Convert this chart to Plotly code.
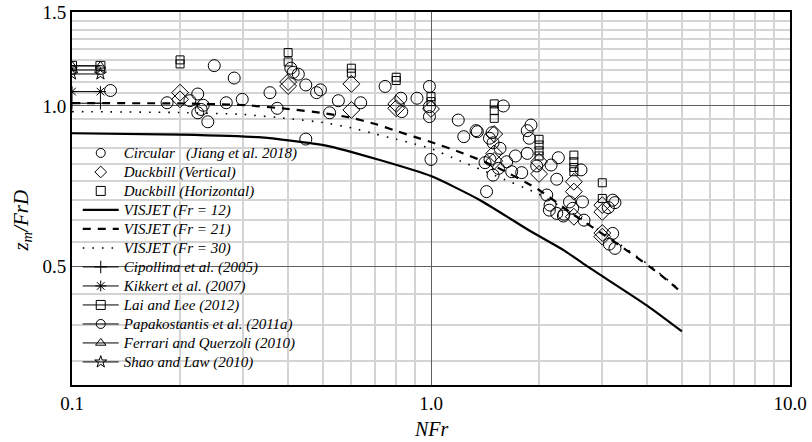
import plotly.graph_objects as go

# ---------------- data ----------------
jiang_x = [0.128, 0.184, 0.213, 0.224, 0.224, 0.232, 0.229, 0.239, 0.249, 0.269, 0.283, 0.298, 0.356, 0.373,
           0.407, 0.413, 0.427, 0.448, 0.448, 0.480, 0.492, 0.522, 0.552, 0.637, 0.745, 0.824, 0.829, 0.914,
           0.990, 0.990, 0.990, 1.000, 1.191, 1.234, 1.335, 1.346, 1.479, 1.455, 1.489, 1.557, 1.414, 1.460,
           1.542, 1.625, 1.719, 1.489, 1.678, 1.789, 1.428, 1.590, 1.899, 1.854, 1.878, 1.854, 1.970, 2.160,
           2.263, 2.240, 2.101, 2.146, 2.136, 2.240, 2.337, 2.347, 2.617, 2.431, 2.481, 2.642, 2.668, 3.207,
           3.254, 3.118, 3.207, 3.138, 3.254]
jiang_y = [1.069, 1.014, 1.023, 1.053, 0.971, 1.003, 0.985, 0.934, 1.190, 1.014, 1.128, 1.029, 1.059, 0.990,
           1.177, 1.156, 1.147, 1.095, 0.867, 1.059, 1.072, 0.971, 1.023, 1.014, 1.088, 1.034, 0.976, 1.034,
           1.088, 0.997, 0.955, 0.794, 0.941, 0.876, 0.899, 0.895, 0.891, 0.870, 0.853, 0.833, 0.783, 0.794,
           0.764, 0.786, 0.806, 0.742, 0.753, 0.750, 0.691, 1.000, 0.921, 0.899, 0.870, 0.815, 0.772, 0.775,
           0.800, 0.729, 0.681, 0.652, 0.638, 0.629, 0.622, 0.627, 0.759, 0.661, 0.643, 0.661, 0.611, 0.666,
           0.659, 0.645, 0.577, 0.551, 0.541]

duck_v_x = [0.2, 0.2, 0.4, 0.4, 0.6, 0.6, 0.8, 0.8, 1.0, 1.5, 1.5, 1.5, 2.0, 2.0, 2.5, 2.5, 2.5, 3.0, 3.0, 3.0, 3.0]
duck_v_y = [1.059, 1.029, 1.109, 1.090, 1.100, 0.983, 1.009, 0.990, 0.987, 0.886, 0.815, 0.789, 0.786, 0.746,
            0.721, 0.691, 0.620, 0.652, 0.633, 0.578, 0.569]

duck_h_x = [0.2, 0.2, 0.4, 0.4, 0.6, 0.6, 0.8, 0.8, 1.0, 1.0, 1.5, 1.5, 1.5, 2.0, 2.0, 2.0, 2.0, 2.5, 2.5, 2.5,
            2.5, 3.0, 3.0]
duck_h_y = [1.220, 1.199, 1.259, 1.209, 1.177, 1.152, 1.132, 1.116, 1.041, 1.019, 1.009, 0.980, 0.948, 0.866,
            0.845, 0.824, 0.806, 0.809, 0.786, 0.767, 0.753, 0.718, 0.671]

v12_x = [0.1, 0.2, 0.33, 0.51, 0.72, 1.0, 1.37, 1.89, 2.34, 2.72, 3.99, 5.0]
v12_y = [0.889, 0.884, 0.874, 0.843, 0.792, 0.739, 0.666, 0.583, 0.537, 0.501, 0.423, 0.378]

v21_x = [0.1, 0.2, 0.3, 0.4, 0.5, 0.6, 0.7, 0.8, 0.9, 1.0, 1.2, 1.5, 2.0, 2.5, 2.9, 3.5, 4.25, 4.9]
v21_y = [1.012, 1.011, 1.004, 0.987, 0.970, 0.950, 0.925, 0.898, 0.875, 0.856, 0.820, 0.772, 0.696, 0.625,
         0.585, 0.537, 0.489, 0.452]

v30_x = [0.1, 0.2, 0.3, 0.4, 0.5, 0.6, 0.7, 0.8, 0.9, 1.0, 1.2, 1.5, 2.0, 2.5, 2.9, 3.5, 4.25, 4.9]
v30_y = [0.976, 0.972, 0.964, 0.947, 0.931, 0.910, 0.886, 0.866, 0.849, 0.832, 0.790, 0.742, 0.683, 0.627,
         0.588, 0.540, 0.491, 0.454]

lit_x = [0.1, 0.12]
lit_names = ["Cipollina et al. (2005)", "Kikkert et al. (2007)", "Lai and Lee (2012)",
             "Papakostantis et al. (2011a)", "Ferrari and Querzoli (2010)", "Shao and Law (2010)"]
lit_values = [1.012, 1.064, 1.189, 1.168, 1.189, 1.148]
lit_symbols = ["cross-thin-open", "asterisk-open", "square-open", "circle-open", "triangle-up-open", "star-open"]

x_ticks = [0.1, 1.0, 10.0]
x_ticklabels = ["0.1", "1.0", "10.0"]
x_minor = [0.2, 0.3, 0.4, 0.5, 0.6, 0.7, 0.8, 0.9, 2, 3, 4, 5, 6, 7, 8, 9]
y_ticks = [0.5, 1.0, 1.5]
y_ticklabels = ["0.5", "1.0", "1.5"]
y_minor = [0.333, 0.389, 0.444, 0.556, 0.611, 0.667, 0.722, 0.778, 0.833, 0.889, 0.944,
           1.056, 1.111, 1.167, 1.222, 1.278, 1.333, 1.389, 1.444]

FONT = "Liberation Serif"
NB = "\u00a0"


def lg(text):
    # legend label rendered at 15px while the legend row pitch follows the smaller legend font
    return ('<span style="font-size:15px;font-family:Liberation Serif,Times New Roman,serif;'
            'font-style:italic">' + text + "</span>")


fig = go.Figure()

# legend-only entries for the experimental markers
for name, sym in [("Circular" + NB * 3 + "(Jiang et al. 2018)", "circle-open"),
                  ("Duckbill (Vertical)", "diamond-open"),
                  ("Duckbill (Horizontal)", "square-open")]:
    fig.add_trace(go.Scatter(x=[None], y=[None], mode="markers", name=lg(name),
                             marker=dict(symbol=sym, size=9, color="black", line=dict(width=1, color="black"))))

# VISJET lines
fig.add_trace(go.Scatter(x=v12_x, y=v12_y, mode="lines", name=lg("VISJET (Fr = 12)"),
                         line=dict(color="black", width=2.2, shape="spline", smoothing=0.6)))
fig.add_trace(go.Scatter(x=v21_x, y=v21_y, mode="lines", name=lg("VISJET (Fr = 21)"),
                         line=dict(color="black", width=2.2, dash="8px,7px", shape="spline", smoothing=0.6)))
fig.add_trace(go.Scatter(x=v30_x, y=v30_y, mode="lines", name=lg("VISJET (Fr = 30)"),
                         line=dict(color="black", width=1.6, dash="1.6px,8px", shape="spline", smoothing=0.6)))

# literature
for name, val, sym in zip(lit_names, lit_values, lit_symbols):
    fig.add_trace(go.Scatter(x=lit_x, y=[val, val], mode="lines+markers", name=lg(name),
                             line=dict(color="black", width=1),
                             marker=dict(symbol=sym, size=9, color="black", line=dict(width=1, color="black"))))

# experimental data
fig.add_trace(go.Scatter(x=jiang_x, y=jiang_y, mode="markers", showlegend=False,
                         marker=dict(symbol="circle-open", size=12, color="black", line=dict(width=1, color="black"))))
fig.add_trace(go.Scatter(x=duck_v_x, y=duck_v_y, mode="markers", showlegend=False,
                         marker=dict(symbol="diamond-open", size=13, color="black", line=dict(width=1, color="black"))))
fig.add_trace(go.Scatter(x=duck_h_x, y=duck_h_y, mode="markers", showlegend=False,
                         marker=dict(symbol="square-open", size=8, color="black", line=dict(width=1, color="black"))))

axis_common = dict(showline=True, mirror=True, linecolor="black", linewidth=2, ticks="",
                   gridcolor="#5f5f5f", gridwidth=1, automargin=False,
                   tickfont=dict(family=FONT, size=19, color="black"), zeroline=False)

fig.update_xaxes(type="log", range=[-1, 1], tickmode="array", tickvals=x_ticks, ticktext=x_ticklabels,
                 minor=dict(tickmode="array", tickvals=x_minor, showgrid=True, gridcolor="#d4d4d4",
                            gridwidth=1.6, ticks=""),
                 **axis_common)
fig.update_yaxes(type="log", range=[-0.5228787, 0.1760913], tickmode="array", tickvals=y_ticks,
                 ticktext=y_ticklabels,
                 minor=dict(tickmode="array", tickvals=y_minor, showgrid=True, gridcolor="#d4d4d4",
                            gridwidth=1.6, ticks=""),
                 **axis_common)

fig.update_layout(
    width=812, height=442, autosize=False,
    margin=dict(l=72, r=22, t=12, b=57, autoexpand=False),
    paper_bgcolor="white", plot_bgcolor="white",
    font=dict(family=FONT, color="black"),
    legend=dict(x=0.008, y=0.661, xanchor="left", yanchor="top", bgcolor="rgba(0,0,0,0)",
                borderwidth=0, itemwidth=36, tracegroupgap=0,
                font=dict(family=FONT, size=12, style="italic", color="black")),
    annotations=[
        dict(text="<i>NFr</i>", x=0.5, y=-0.118, xref="paper", yref="paper", showarrow=False,
             xanchor="center", yanchor="middle", font=dict(family=FONT, size=20, color="black")),
        dict(text="<i>z<sub>m</sub>/FrD</i>", x=-0.07, y=0.44, xref="paper", yref="paper", showarrow=False,
             textangle=-90, xanchor="center", yanchor="middle", font=dict(family=FONT, size=21, color="black")),
    ],
)

fig.write_html("out.html", config={"displayModeBar": False})
with open("out.html", "r", encoding="utf-8") as f:
    html = f.read()
html = html.replace("<head>", "<head><style>html,body{margin:0;padding:0;}</style>", 1)
with open("out.html", "w", encoding="utf-8") as f:
    f.write(html)
